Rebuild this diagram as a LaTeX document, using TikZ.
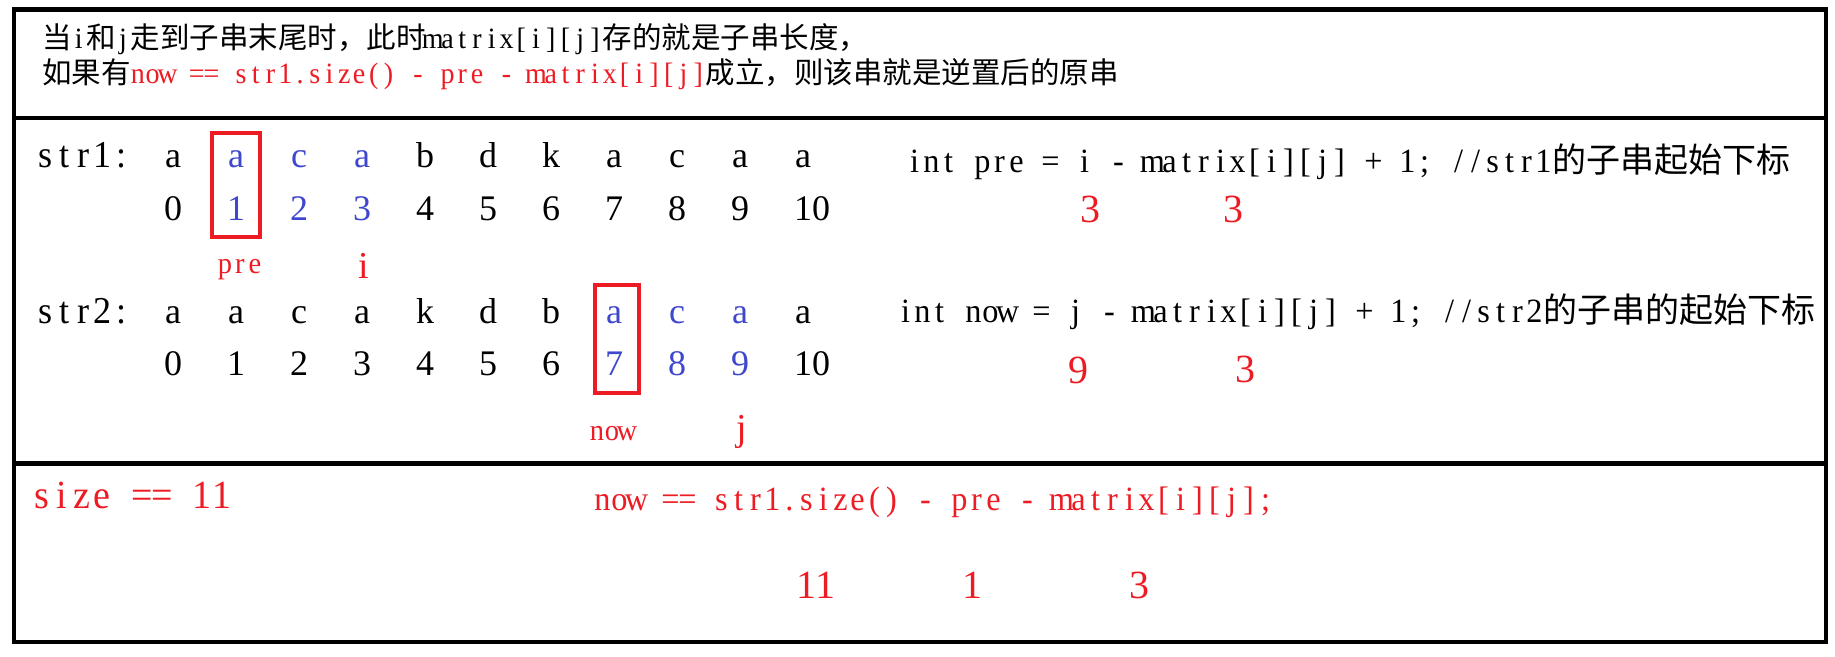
\documentclass[tikz,border=0pt]{standalone}
\usepackage{fontspec}
\setmainfont{Liberation Serif}
\newfontfamily\cjkf{Noto Sans CJK SC}
\newfontfamily\monof{Liberation Serif}[FakeStretch=0.95]
\definecolor{pred}{RGB}{237,28,36}
\definecolor{pblue}{RGB}{63,72,204}
\makeatletter
\newcommand\mono[1]{{\monof\@tfor\mc:=#1\do{\makebox[.5em]{\mc}}}}
\makeatother
\tikzset{
  frame/.style={line width=4.5pt, black},
  redbox/.style={line width=4pt, pred},
  txt/.style={anchor=base west, inner sep=0pt, outer sep=0pt},
  ctr/.style={anchor=base, inner sep=0pt, outer sep=0pt},
  fTop/.style={font=\fontsize{29.5}{34}\selectfont},
  fRow/.style={font=\fontsize{36}{40}\selectfont},
  fLab/.style={font=\fontsize{38}{42}\selectfont},
  fSm/.style={font=\fontsize{30}{34}\selectfont},
  fCode/.style={font=\fontsize{34}{40}\selectfont},
  fBig/.style={font=\fontsize{40}{44}\selectfont},
}
\begin{document}
\begin{tikzpicture}[x=1pt,y=-1pt]
\useasboundingbox (0,0) rectangle (1835,656);
% frame
\draw[frame] (14,9.5) rectangle (1826,642);
\draw[frame] (14,118) -- (1826,118);
\draw[frame] (14,463.5) -- (1826,463.5);
% top text
\node[txt,fTop] (t1) at (42,48) {{\cjkf 当}\mono{i}{\cjkf 和}\mono{j}{\cjkf 走到子串末尾时，此时}\mono{matrix[i][j]}{\cjkf 存的就是子串长度，}};
\node[txt,fTop] (t2) at (42,83) {{\cjkf 如果有}\textcolor{pred}{\mono{now~==~str1.size()~-~pre~-~matrix[i][j]}}{\cjkf 成立，则该串就是逆置后的原串}};
% str1
\node[txt,fLab] (s1) at (36,167) {\mono{str1:}};
\foreach \c [count=\i from 0] in {a,a,c,a,b,d,k,a,c,a,a} {
  \node[ctr,fRow] (s1l\i) at ({173+63*\i},167) {\ifnum\i>0 \ifnum\i<4 \color{pblue}\fi\fi\c};
}
\foreach \i in {0,...,10} {
  \node[ctr,fRow] (s1d\i) at ({173+63*\i+(\i==10?9:0)},220) {\ifnum\i>0 \ifnum\i<4 \color{pblue}\fi\fi\i};
}
\draw[redbox] (212,133) rectangle (260,237);
\node[ctr,fSm,pred] (pre) at (240,273) {\mono{pre}};
\node[ctr,fLab,pred] (ilab) at (364,278) {i};
% str2
\node[txt,fLab] (s2) at (36,323) {\mono{str2:}};
\foreach \c [count=\i from 0] in {a,a,c,a,k,d,b,a,c,a,a} {
  \node[ctr,fRow] (s2l\i) at ({173+63*\i},323) {\ifnum\i>6 \ifnum\i<10 \color{pblue}\fi\fi\c};
}
\foreach \i in {0,...,10} {
  \node[ctr,fRow] (s2d\i) at ({173+63*\i+(\i==10?9:0)},375) {\ifnum\i>6 \ifnum\i<10 \color{pblue}\fi\fi\i};
}
\draw[redbox] (595,285) rectangle (639,393);
\node[ctr,fSm,pred] (now) at (612,440) {\mono{now}};
\node[ctr,fLab,pred] (jlab) at (742,440) {j};
% right formulas
\node[txt,fCode] (f1) at (906,172) {\mono{int~pre~=~i~-~matrix[i][j]~+~1;~//str1}{\cjkf 的子串起始下标}};
\node[ctr,fBig,pred] (v1) at (1090,222) {3};
\node[ctr,fBig,pred] (v2) at (1233,222) {3};
\node[txt,fCode] (f2) at (897,322) {\mono{int~now~=~j~-~matrix[i][j]~+~1;~//str2}{\cjkf 的子串的起始下标}};
\node[ctr,fBig,pred] (v3) at (1078,383) {9};
\node[ctr,fBig,pred] (v4) at (1245,382) {3};
% bottom
\node[txt,fBig,pred] (size) at (32,508) {\mono{size~==~11}};
\node[txt,fCode,pred] (eq) at (594,510) {\mono{now~==~str1.size()~-~pre~-~matrix[i][j];}};
\node[ctr,fBig,pred] (b1) at (816,598) {11};
\node[ctr,fBig,pred] (b2) at (972,598) {1};
\node[ctr,fBig,pred] (b3) at (1139,598) {3};
\end{tikzpicture}
\end{document}
